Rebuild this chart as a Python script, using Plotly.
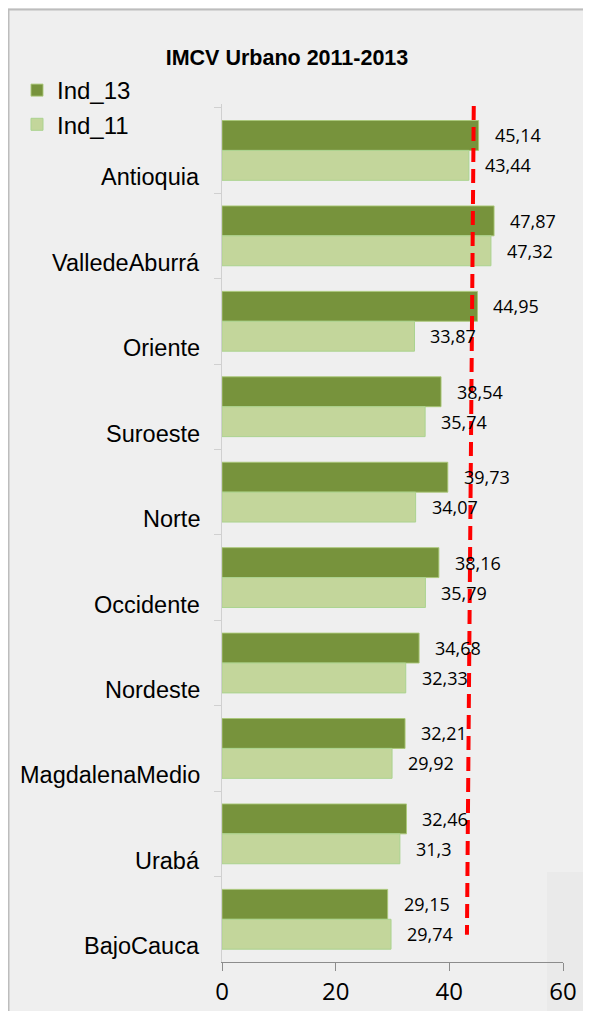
import plotly.graph_objects as go

categories = ["Antioquia", "ValledeAburrá", "Oriente", "Suroeste", "Norte",
              "Occidente", "Nordeste", "MagdalenaMedio", "Urabá", "BajoCauca"]
ind_13 = [45.14, 47.87, 44.95, 38.54, 39.73, 38.16, 34.68, 32.21, 32.46, 29.15]
ind_11 = [43.44, 47.32, 33.87, 35.74, 34.07, 35.79, 32.33, 29.92, 31.30, 29.74]
x_ticks = [0, 20, 40, 60]
title_text = "IMCV Urbano 2011-2013"

ref_line_x = (44.3, 43.1)   # red dashed reference line (top, bottom)

# page body has an 8px margin; figure sits at (8, 8)
OFF = 8
W, H = 591 - 2 * OFF, 1011 - OFF
ML, MT = 214, 96
MR = W - (563 - OFF)
MB = H - (962 - OFF)
PW, PH = W - ML - MR, H - MT - MB


def px_x(px):  # page px -> paper x
    return (px - OFF - ML) / PW


def px_y(py):  # page px -> paper y
    return (H - MB - (py - OFF)) / PH


BG = "rgb(239,239,239)"
DARK = "#77933C"
LIGHT = "#C3D69B"


def fmt(v):
    s = f"{v:.2f}".rstrip("0").rstrip(".")
    return s.replace(".", ",")


fig = go.Figure()
fig.add_trace(go.Bar(y=categories, x=ind_13, name="Ind_13", orientation="h",
                     marker=dict(color=DARK, line=dict(color="rgba(170,200,120,0.9)", width=1)),
                     legendgroup="a"))
fig.add_trace(go.Bar(y=categories, x=ind_11, name="Ind_11", orientation="h",
                     marker=dict(color=LIGHT, line=dict(color="#ABD38F", width=1)),
                     legendgroup="b"))

annotations = []
for c, v in zip(categories, ind_13):
    annotations.append(dict(x=v, y=c, xref="x", yref="y", text=fmt(v), showarrow=False,
                            xanchor="left", yanchor="middle", xshift=14, yshift=15,
                            font=dict(family="Open Sans", size=18, color="black")))
for c, v in zip(categories, ind_11):
    annotations.append(dict(x=v, y=c, xref="x", yref="y", text=fmt(v), showarrow=False,
                            xanchor="left", yanchor="middle", xshift=14, yshift=-15,
                            font=dict(family="Open Sans", size=18, color="black")))
for c in categories:
    annotations.append(dict(x=px_x(202), y=c, xref="paper", yref="y", text=c, showarrow=False,
                            xanchor="right", yanchor="middle", yshift=-27,
                            font=dict(family="Liberation Sans", size=23.5, color="black")))

shapes = [
    # background artifact rectangle bottom-right
    dict(type="rect", xref="paper", yref="paper", x0=px_x(547), x1=px_x(600),
         y0=px_y(1020), y1=px_y(872), fillcolor="rgb(234,234,234)", line=dict(width=0),
         layer="below"),
    # outer border (left and top)
    dict(type="line", xref="paper", yref="paper", x0=px_x(8.5), x1=px_x(8.5),
         y0=px_y(1020), y1=px_y(9), line=dict(color="#BDBDBD", width=2)),
    dict(type="line", xref="paper", yref="paper", x0=px_x(7.5), x1=px_x(600),
         y0=px_y(9.5), y1=px_y(9.5), line=dict(color="#BDBDBD", width=2)),
    # red dashed line
    dict(type="line", xref="x", yref="y", x0=ref_line_x[0], x1=ref_line_x[1],
         y0=-0.52, y1=9.18, line=dict(color="#FF0000", width=4, dash="14px,7px")),
]

fig.update_layout(
    width=W, height=H,
    margin=dict(l=ML, r=MR, t=MT, b=MB, pad=0, autoexpand=False),
    paper_bgcolor=BG, plot_bgcolor=BG,
    barmode="group", bargap=0.30, bargroupgap=0,
    title=dict(text="<b>" + title_text + "</b>", x=(287 - OFF) / W, xref="container",
               xanchor="center", y=1 - (57 - OFF) / H, yref="container", yanchor="middle",
               font=dict(family="Liberation Sans", size=21.5, color="black")),
    legend=dict(x=px_x(17), y=px_y(68), xanchor="left", yanchor="top",
                bgcolor="rgba(0,0,0,0)", font=dict(family="Liberation Sans", size=24, color="black"),
                tracegroupgap=0, itemwidth=30, traceorder="normal"),
    annotations=annotations,
    shapes=shapes,
    xaxis=dict(range=[0, 60], tickvals=x_ticks, ticks="outside", ticklen=8, tickwidth=1,
               tickcolor="#8C8C8C", showline=True, linecolor="#8C8C8C", linewidth=1,
               showgrid=False, zeroline=False,
               tickfont=dict(family="Open Sans", size=24, color="black")),
    yaxis=dict(type="category", categoryorder="array", categoryarray=categories,
               autorange="reversed", showticklabels=False, ticks="outside", tickson="boundaries",
               ticklen=7, tickcolor="#D0D0D0", showline=True, linecolor="#D0D0D0", linewidth=1,
               showgrid=False, zeroline=False),
)

fig.write_html("out.html")
